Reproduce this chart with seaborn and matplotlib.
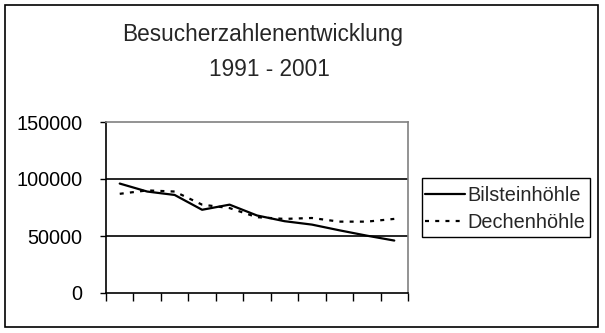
import matplotlib
matplotlib.use("Agg")
import matplotlib.pyplot as plt
import seaborn as sns
import pandas as pd
from matplotlib.patches import Rectangle
from matplotlib.lines import Line2D

years = [1991, 1992, 1993, 1994, 1995, 1996, 1997, 1998, 1999, 2000, 2001]
bilstein = [96000, 89000, 86000, 73000, 77500, 68000, 63000, 60000, 55000, 50300, 46000]
dechen = [87000, 90000, 89000, 77500, 74500, 66500, 65000, 65800, 62600, 62600, 65000]
series_names = ["Bilsteinhöhle", "Dechenhöhle"]
y_ticks = [0, 50000, 100000, 150000]

sns.set_theme(style="white")
plt.rcParams["font.family"] = ["Liberation Sans", "DejaVu Sans"]

df = pd.DataFrame({
    "idx": list(range(len(years))) * 2,
    "value": bilstein + dechen,
    "series": [series_names[0]] * len(years) + [series_names[1]] * len(years),
})

W, H = 605, 333
fig = plt.figure(figsize=(W / 100, H / 100), dpi=100)
fig.patch.set_facecolor("white")

L, R, T, B = 106, 408, 122, 293
ax = fig.add_axes([L / W, 1 - B / H, (R - L) / W, (B - T) / H])

DASH = (1.8, 2.8)
sns.lineplot(
    data=df, x="idx", y="value", style="series", ax=ax,
    color="black", linewidth=1.6,
    dashes={series_names[0]: "", series_names[1]: DASH},
    legend=False,
)

ax.set_xlim(-0.5, len(years) - 0.5)
ax.set_ylim(0, 150000)
ax.set_xticks([i - 0.5 for i in range(len(years) + 1)])
ax.set_xticklabels([])
ax.set_yticks(y_ticks)
ax.set_yticklabels([str(v) for v in y_ticks], fontsize=14.3, color="black")
ax.tick_params(axis="x", direction="out", length=5.8, width=1, color="black", bottom=True)
ax.tick_params(axis="y", direction="out", length=4.3, width=1, color="black", left=True, pad=12.5)
ax.set_xlabel("")
ax.set_ylabel("")

for v in [50000, 100000]:
    ax.axhline(v, color="black", linewidth=1.2, zorder=0)

for s in ["top", "right"]:
    ax.spines[s].set_color("#808080")
    ax.spines[s].set_linewidth(1.2)
for s in ["left", "bottom"]:
    ax.spines[s].set_color("black")
    ax.spines[s].set_linewidth(1.2)

handles = [
    Line2D([], [], color="black", linewidth=1.6),
    Line2D([], [], color="black", linewidth=1.6, dashes=DASH),
]
leg = fig.legend(
    handles, series_names, loc="upper left",
    bbox_to_anchor=(425 / W, 1 - 186 / H), fontsize=14.3,
    frameon=False, handlelength=2.0, handletextpad=0.15, borderpad=0.0,
    labelspacing=0.42, borderaxespad=0,
)
fig.patches.append(Rectangle((422 / W, 1 - 237 / H), (590 - 422) / W, (237 - 178) / H,
                             transform=fig.transFigure, fill=False,
                             edgecolor="black", linewidth=1.0))

fig.text(263 / W, 1 - 35 / H, "Besucherzahlenentwicklung", ha="center", va="center", fontsize=16.3)
fig.text(269 / W, 1 - 69 / H, "1991 - 2001", ha="center", va="center", fontsize=16.3)

fig.patches.append(Rectangle((5 / W, 1 - 327 / H), (598 - 5) / W, (327 - 5) / H,
                             transform=fig.transFigure, fill=False,
                             edgecolor="black", linewidth=1.2))

fig.savefig("out.png", dpi=100)
